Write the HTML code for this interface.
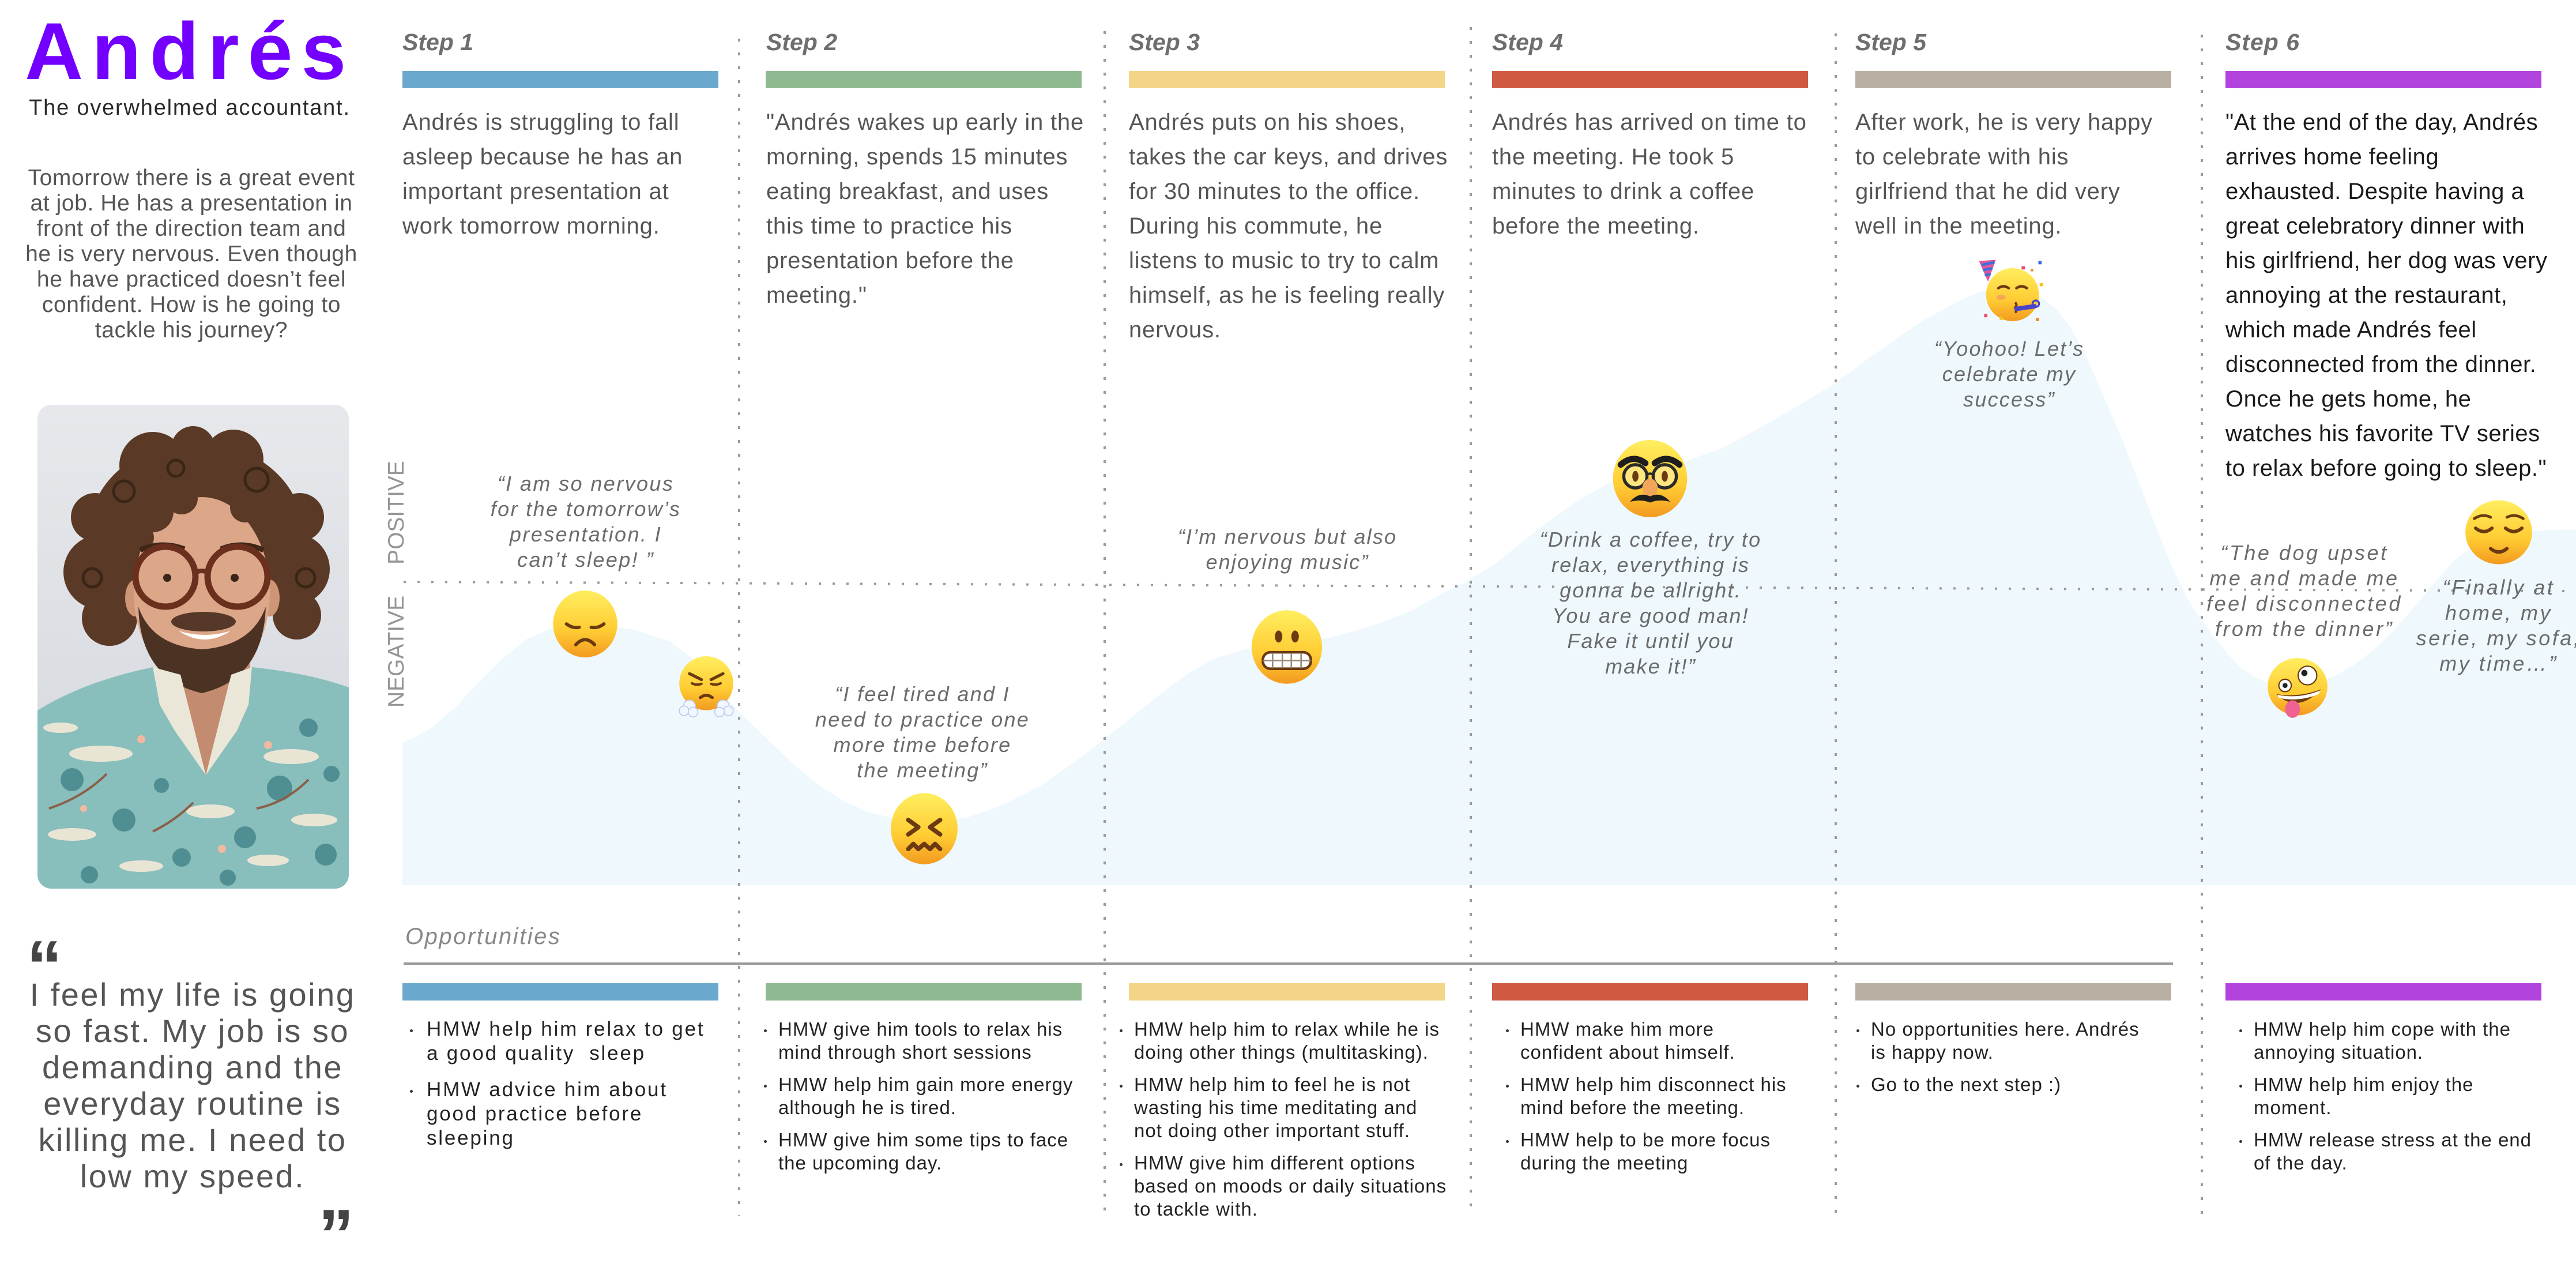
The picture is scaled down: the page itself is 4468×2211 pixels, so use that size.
<!DOCTYPE html>
<html>
<head>
<meta charset="utf-8">
<style>
html,body{margin:0;padding:0;background:#fff;}
body{width:4468px;height:2160px;overflow:hidden;position:relative;font-family:"Liberation Sans",Arial,sans-serif;}
.a{position:absolute;white-space:pre;}
.lbl{top:48px;font-size:41px;line-height:50px;font-weight:bold;font-style:italic;color:#6e6e6e;}
.st{top:182px;font-size:40px;line-height:60px;color:#555;letter-spacing:0.8px;}
.q{font-style:italic;font-size:36px;line-height:44px;color:#6b6b6b;letter-spacing:2.2px;text-align:center;width:600px;}
.bl{top:1765px;font-size:33px;line-height:40px;color:#222;letter-spacing:1px;}
.bl p{margin:0 0 16px 0;position:relative;}
.bl p::before{content:"";position:absolute;left:-25px;top:20px;width:5px;height:5px;border-radius:50%;background:#333;}
.bl1{top:1764px;font-size:35px;line-height:42px;letter-spacing:2.8px;}
.bl1 p{margin:0 0 21px 0;}
.bl1 p::before{left:-29px;top:21px;}
</style>
</head>
<body>

<svg width="4468" height="2160" style="position:absolute;left:0;top:0" xmlns="http://www.w3.org/2000/svg">
<defs>
<linearGradient id="fg" x1="0" y1="0" x2="0" y2="1">
<stop offset="0" stop-color="#FFEE60"/><stop offset="0.6" stop-color="#FFCC33"/><stop offset="1" stop-color="#F39A20"/>
</linearGradient>
</defs>

<path fill="#EEF8FD" d="M698,1535 L698,1288 L720,1278 L746,1264 L790,1226 L829,1184 L870,1143 L912,1109 L950,1092 L990,1085 L1040,1084 L1100,1092 L1161,1112 L1200,1140 L1240,1190 L1280,1232 L1335,1286 L1380,1328 L1421,1362 L1465,1390 L1506,1408 L1550,1419 L1600,1423 L1640,1422 L1677,1418 L1740,1396 L1806,1362 L1860,1324 L1917,1281 L1970,1238 L2019,1199 L2060,1168 L2105,1143 L2150,1128 L2190,1120 L2250,1113 L2301,1107 L2350,1094 L2404,1077 L2450,1058 L2489,1036 L2540,1010 L2590,980 L2630,948 L2674,913 L2740,866 L2799,833 L2860,812 L2923,800 L2985,778 L3047,745 L3120,703 L3184,664 L3240,622 L3296,583 L3340,553 L3379,532 L3410,516 L3437,506 L3465,500 L3490,499 L3515,503 L3540,515 L3565,535 L3587,561 L3615,610 L3645,679 L3680,760 L3711,840 L3740,915 L3769,987 L3796,1041 L3820,1078 L3842,1107 L3865,1135 L3887,1158 L3910,1174 L3933,1184 L3955,1189 L3979,1190 L4010,1186 L4048,1173 L4080,1155 L4116,1128 L4150,1095 L4185,1056 L4220,1013 L4254,974 L4290,948 L4322,934 L4355,925 L4391,921 L4430,919 L4468,918 L4468,1535 Z"/>

<rect x="698" y="123" width="548" height="30" fill="#6BA8CE"/>
<rect x="1328" y="123" width="548" height="30" fill="#8FBA91"/>
<rect x="1958" y="123" width="548" height="30" fill="#F4D489"/>
<rect x="2588" y="123" width="548" height="30" fill="#CF5A44"/>
<rect x="3218" y="123" width="548" height="30" fill="#B8B0A3"/>
<rect x="3860" y="123" width="548" height="30" fill="#B343DD"/>
<rect x="698" y="1705" width="548" height="30" fill="#6BA8CE"/>
<rect x="1328" y="1705" width="548" height="30" fill="#8FBA91"/>
<rect x="1958" y="1705" width="548" height="30" fill="#F4D489"/>
<rect x="2588" y="1705" width="548" height="30" fill="#CF5A44"/>
<rect x="3218" y="1705" width="548" height="30" fill="#B8B0A3"/>
<rect x="3860" y="1705" width="548" height="30" fill="#B343DD"/>
<rect x="700" y="1669" width="3069" height="4" fill="#999"/>

<g stroke="#9b9b9b" stroke-width="4" stroke-dasharray="5 19" fill="none">
<line x1="1282" y1="67" x2="1282" y2="2108"/>
<line x1="1916" y1="54" x2="1916" y2="2100"/>
<line x1="2551" y1="47" x2="2551" y2="2105"/>
<line x1="3184" y1="58" x2="3184" y2="2105"/>
<line x1="3819" y1="60" x2="3819" y2="2105"/>
</g>
<line x1="700" y1="1009" x2="4468" y2="1025" stroke="#9b9b9b" stroke-width="4" stroke-dasharray="4 20"/>

<text transform="translate(700,889) rotate(-90)" text-anchor="middle" font-family="Liberation Sans" font-size="39" fill="#959595">POSITIVE</text>
<text transform="translate(700,1130) rotate(-90)" text-anchor="middle" font-family="Liberation Sans" font-size="39" fill="#959595">NEGATIVE</text>

<g transform="translate(957,1024) scale(1.16)">
<ellipse cx="50" cy="50" rx="48" ry="50" fill="url(#fg)"/>
<path d="M22 50 Q31 57 41 55 M78 50 Q69 57 59 55" stroke="#6b3a10" stroke-width="5" fill="none" stroke-linecap="round"/>
<path d="M36 81 Q50 66 64 81" stroke="#6b3a10" stroke-width="5" fill="none" stroke-linecap="round"/>
</g>
<g transform="translate(1173,1137) scale(1.04)">
<circle cx="50" cy="46" r="45" fill="url(#fg)"/>
<path d="M22 30 L42 40 M78 30 L58 40" stroke="#6b3a10" stroke-width="5" stroke-linecap="round"/>
<path d="M26 46 Q34 50 42 47 M74 46 Q66 50 58 47" stroke="#6b3a10" stroke-width="4" fill="none" stroke-linecap="round"/>
<path d="M40 70 Q50 62 60 70" stroke="#6b3a10" stroke-width="5" fill="none" stroke-linecap="round"/>
<g fill="#f2f6ff" stroke="#b9c9ea" stroke-width="1.5">
<circle cx="22" cy="84" r="10"/><circle cx="13" cy="92" r="8"/><circle cx="28" cy="94" r="8"/>
<circle cx="78" cy="84" r="10"/><circle cx="87" cy="92" r="8"/><circle cx="72" cy="94" r="8"/>
</g>
</g>
<g transform="translate(1540,1374) scale(1.26)">
<ellipse cx="50" cy="50" rx="46" ry="49" fill="url(#fg)"/>
<path d="M28 38 L42 48 L28 58 M72 38 L58 48 L72 58" stroke="#6b3a10" stroke-width="6" fill="none" stroke-linecap="round" stroke-linejoin="round"/>
<path d="M28 78 L35 71 L42 78 L50 71 L58 78 L65 71 L72 78" stroke="#6b3a10" stroke-width="6" fill="none" stroke-linecap="round" stroke-linejoin="round"/>
</g>
<g transform="translate(2167,1057) scale(1.3)">
<ellipse cx="50" cy="50" rx="47" ry="49" fill="url(#fg)"/>
<ellipse cx="39" cy="36" rx="5" ry="8" fill="#6b3a10"/><ellipse cx="61" cy="36" rx="5" ry="8" fill="#6b3a10"/>
<rect x="18" y="57" width="64" height="22" rx="10" fill="#fff" stroke="#6b3a10" stroke-width="3.5"/>
<path d="M18 68 L82 68 M31 58 L31 78 M44 58 L44 78 M56 58 L56 78 M69 58 L69 78" stroke="#9a8a7a" stroke-width="2"/>
</g>
<g transform="translate(2795,763) scale(1.34)">
<ellipse cx="50" cy="50" rx="48" ry="50" fill="url(#fg)"/>
<path d="M12 32 Q28 18 44 30 M56 30 Q72 18 88 32" stroke="#1e1e1e" stroke-width="8" fill="none" stroke-linecap="round"/>
<circle cx="31" cy="47" r="15" fill="#ffe680" stroke="#2a2a2a" stroke-width="4"/>
<circle cx="69" cy="47" r="15" fill="#ffe680" stroke="#2a2a2a" stroke-width="4"/>
<path d="M46 45 Q50 42 54 45" stroke="#2a2a2a" stroke-width="3" fill="none"/>
<ellipse cx="31" cy="47" rx="4" ry="7" fill="#6b3a10"/><ellipse cx="69" cy="47" rx="4" ry="7" fill="#6b3a10"/>
<ellipse cx="50" cy="62" rx="10" ry="12" fill="#f1a65a"/>
<path d="M24 80 Q36 66 50 73 Q64 66 76 80 Q62 76 50 81 Q38 76 24 80Z" fill="#1e1e1e"/>
</g>
<g transform="translate(3428,446) scale(1.12)">
<circle cx="56" cy="58" r="41" fill="url(#fg)"/>
<polygon points="4,6 30,4 18,38" fill="#e3559a"/>
<path d="M8 12 L28 8 M10 20 L25 17 M13 28 L22 26" stroke="#3b6fe0" stroke-width="4"/>
<path d="M34 48 Q42 42 50 48 M62 48 Q70 42 78 48" stroke="#6b3a10" stroke-width="4" fill="none" stroke-linecap="round"/>
<ellipse cx="38" cy="62" rx="7" ry="4" fill="#f28a6a" opacity="0.6"/>
<path d="M60 70 Q64 74 60 78 Q64 82 60 86" stroke="#6b3a10" stroke-width="3.5" fill="none"/>
<path d="M62 80 L90 76" stroke="#4a44c8" stroke-width="7" stroke-linecap="round"/>
<circle cx="92" cy="72" r="5" fill="none" stroke="#4a44c8" stroke-width="3"/>
<rect x="70" y="14" width="5" height="5" fill="#e84a6a"/><rect x="96" y="6" width="5" height="5" fill="#2e6be0"/>
<rect x="98" y="40" width="5" height="5" fill="#f5c21b"/><rect x="12" y="88" width="5" height="5" fill="#e84a6a"/>
<rect x="36" y="92" width="5" height="5" fill="#f5c21b"/><rect x="92" y="94" width="5" height="5" fill="#f08a2a"/>
<rect x="84" y="18" width="4" height="4" fill="#f08a2a"/>
</g>
<g transform="translate(3931,1139) scale(1.08)">
<ellipse cx="50" cy="48" rx="48" ry="46" fill="url(#fg)"/>
<circle cx="30" cy="46" r="10" fill="#fff" stroke="#6b3a10" stroke-width="2"/><circle cx="30" cy="46" r="4" fill="#222"/>
<circle cx="66" cy="30" r="15" fill="#fff" stroke="#6b3a10" stroke-width="2"/><circle cx="61" cy="26" r="5" fill="#222"/>
<path d="M16 60 Q50 92 88 52 Q52 66 16 60Z" fill="#6b3a10"/>
<path d="M18 61 Q52 68 86 54 L84 60 Q52 73 20 66Z" fill="#fff"/>
<ellipse cx="42" cy="84" rx="12" ry="14" fill="#f06292"/>
</g>
<g transform="translate(4275,864) scale(1.18)">
<ellipse cx="50" cy="50" rx="49" ry="47" fill="url(#fg)"/>
<path d="M14 30 Q26 22 38 28 M62 28 Q74 22 86 30" stroke="#6b3a10" stroke-width="4" fill="none" stroke-linecap="round"/>
<path d="M16 44 Q28 54 40 44 M60 44 Q72 54 84 44" stroke="#6b3a10" stroke-width="5" fill="none" stroke-linecap="round"/>
<path d="M38 74 Q50 84 62 74" stroke="#6b3a10" stroke-width="5" fill="none" stroke-linecap="round"/>
</g>
</svg>

<div style="position:absolute;left:65px;top:702px;width:540px;height:839px;border-radius:24px;overflow:hidden;">
<svg width="540" height="839" xmlns="http://www.w3.org/2000/svg">
<defs><linearGradient id="pbg" x1="0" y1="0" x2="0" y2="1"><stop offset="0" stop-color="#e6e8ec"/><stop offset="1" stop-color="#d3d6db"/></linearGradient></defs>
<rect width="540" height="839" fill="url(#pbg)"/>
<g fill="#5a3a26">
<ellipse cx="275" cy="220" rx="185" ry="155"/>
<circle cx="110" cy="290" r="65"/><circle cx="445" cy="285" r="62"/>
<circle cx="125" cy="370" r="48"/><circle cx="450" cy="365" r="42"/>
<circle cx="200" cy="105" r="58"/><circle cx="340" cy="95" r="52"/>
<circle cx="100" cy="195" r="42"/><circle cx="455" cy="195" r="42"/>
<circle cx="270" cy="75" r="38"/>
</g>
<g fill="none" stroke="#3a2516" stroke-width="5">
<circle cx="150" cy="150" r="18"/><circle cx="380" cy="130" r="20"/><circle cx="95" cy="300" r="16"/><circle cx="465" cy="300" r="16"/><circle cx="240" cy="110" r="14"/>
</g>
<ellipse cx="170" cy="335" rx="18" ry="32" fill="#cf9577"/>
<ellipse cx="402" cy="335" rx="18" ry="32" fill="#cf9577"/>
<path d="M212,440 L368,440 L372,600 L292,642 L208,600Z" fill="#c38b70"/>
<ellipse cx="285" cy="325" rx="118" ry="165" fill="#dca689"/>
<g fill="#5a3a26"><circle cx="200" cy="185" r="36"/><circle cx="250" cy="162" r="28"/><circle cx="178" cy="230" r="24"/><circle cx="360" cy="178" r="26"/></g>
<path d="M175,350 Q178,475 285,500 Q392,475 396,350 Q372,418 285,424 Q198,418 175,350Z" fill="#4b3223"/>
<ellipse cx="288" cy="376" rx="56" ry="17" fill="#553827"/>
<path d="M245,392 Q290,422 335,392 Q290,406 245,392Z" fill="#fff"/>
<path d="M178,252 Q215,235 255,250 M318,250 Q355,235 392,252" stroke="#3e2718" stroke-width="9" fill="none"/>
<circle cx="222" cy="298" r="52" fill="none" stroke="#6b2f1d" stroke-width="11"/>
<circle cx="347" cy="298" r="52" fill="none" stroke="#6b2f1d" stroke-width="11"/>
<path d="M272,292 Q285,284 297,292" stroke="#6b2f1d" stroke-width="8" fill="none"/>
<circle cx="225" cy="300" r="7" fill="#3a2516"/><circle cx="342" cy="300" r="7" fill="#3a2516"/>
<path d="M0,530 Q80,480 200,455 L292,642 L372,455 Q470,465 540,490 L540,839 L0,839Z" fill="#88bebb"/>
<polygon points="200,455 248,468 292,642 238,565 212,520" fill="#ebe7d8"/>
<polygon points="372,455 336,468 292,642 346,565 366,520" fill="#ebe7d8"/>
<g fill="#e9e5d5">
<ellipse cx="110" cy="605" rx="55" ry="14"/><ellipse cx="440" cy="610" rx="48" ry="13"/><ellipse cx="300" cy="705" rx="42" ry="12"/>
<ellipse cx="60" cy="745" rx="42" ry="11"/><ellipse cx="480" cy="720" rx="40" ry="11"/><ellipse cx="180" cy="800" rx="38" ry="10"/>
<ellipse cx="400" cy="790" rx="36" ry="10"/><ellipse cx="40" cy="560" rx="30" ry="9"/>
</g>
<g fill="#4f8f93">
<circle cx="60" cy="650" r="20"/><circle cx="150" cy="720" r="20"/><circle cx="420" cy="665" r="22"/><circle cx="500" cy="780" r="19"/>
<circle cx="250" cy="785" r="16"/><circle cx="360" cy="750" r="19"/><circle cx="90" cy="815" r="15"/><circle cx="470" cy="560" r="16"/>
<circle cx="215" cy="660" r="13"/><circle cx="330" cy="820" r="14"/><circle cx="510" cy="640" r="14"/>
</g>
<g stroke="#8b5e48" stroke-width="4" fill="none">
<path d="M20,700 Q80,680 120,640"/><path d="M380,700 Q430,690 470,650"/><path d="M200,740 Q240,720 270,690"/>
</g>
<g fill="#f0b9a0"><circle cx="180" cy="580" r="7"/><circle cx="400" cy="590" r="7"/><circle cx="320" cy="770" r="7"/><circle cx="80" cy="700" r="6"/></g>
</svg>
</div>

<div class="a" style="left:43px;top:19px;font-size:140px;line-height:140px;font-weight:bold;letter-spacing:15px;color:#7300ff;">Andrés</div>
<div class="a" style="left:29px;top:165px;width:600px;text-align:center;font-size:38px;line-height:44px;letter-spacing:1.8px;color:#2a2a2a;">The overwhelmed accountant.</div>
<div class="a" style="left:32px;top:287px;width:600px;text-align:center;font-size:39px;line-height:44px;letter-spacing:0.6px;color:#555;">Tomorrow there is a great event
at job. He has a presentation in
front of the direction team and
he is very nervous. Even though
he have practiced doesn’t feel
confident. How is he going to
tackle his journey?</div>

<div class="a" style="left:46px;top:1614px;font-size:124px;line-height:124px;font-weight:bold;color:#444;">“</div>
<div class="a" style="left:34px;top:1693px;width:600px;text-align:center;font-size:56px;line-height:63px;letter-spacing:2.5px;color:#555;">I feel my life is going
so fast. My job is so
demanding and the
everyday routine is
killing me. I need to
low my speed.</div>
<div class="a" style="left:552px;top:2080px;font-size:124px;line-height:124px;font-weight:bold;color:#444;">”</div>

<div class="a lbl" style="left:698px;">Step 1</div>
<div class="a lbl" style="left:1329px;">Step 2</div>
<div class="a lbl" style="left:1958px;">Step 3</div>
<div class="a lbl" style="left:2588px;">Step 4</div>
<div class="a lbl" style="left:3218px;">Step 5</div>
<div class="a lbl" style="left:3860px;letter-spacing:1px;">Step 6</div>

<div class="a st" style="left:698px;">Andrés is struggling to fall
asleep because he has an
important presentation at
work tomorrow morning.</div>
<div class="a st" style="left:1329px;">"Andrés wakes up early in the
morning, spends 15 minutes
eating breakfast, and uses
this time to practice his
presentation before the
meeting."</div>
<div class="a st" style="left:1958px;">Andrés puts on his shoes,
takes the car keys, and drives
for 30 minutes to the office.
During his commute, he
listens to music to try to calm
himself, as he is feeling really
nervous.</div>
<div class="a st" style="left:2588px;">Andrés has arrived on time to
the meeting. He took 5
minutes to drink a coffee
before the meeting.</div>
<div class="a st" style="left:3218px;">After work, he is very happy
to celebrate with his
girlfriend that he did very
well in the meeting.</div>
<div class="a st" style="left:3860px;color:#1a1a1a;letter-spacing:0.5px;">"At the end of the day, Andrés
arrives home feeling
exhausted. Despite having a
great celebratory dinner with
his girlfriend, her dog was very
annoying at the restaurant,
which made Andrés feel
disconnected from the dinner.
Once he gets home, he
watches his favorite TV series
to relax before going to sleep."</div>

<div class="a q" style="left:716px;top:817px;letter-spacing:2.4px;">“I am so nervous
for the tomorrow’s
presentation. I
can’t sleep! ”</div>
<div class="a q" style="left:1300px;top:1182px;letter-spacing:2.3px;">“I feel tired and I
need to practice one
more time before
the meeting”</div>
<div class="a q" style="left:1933px;top:909px;">“I’m nervous but also
enjoying music”</div>
<div class="a q" style="left:2563px;top:914px;">“Drink a coffee, try to
relax, everything is
gonna be allright.
You are good man!
Fake it until you
make it!”</div>
<div class="a q" style="left:3185px;top:583px;">“Yoohoo! Let’s
celebrate my
success”</div>
<div class="a q" style="left:3697px;top:937px;letter-spacing:3.5px;">“The dog upset
me and made me
feel disconnected
from the dinner”</div>
<div class="a q" style="left:4034px;top:997px;letter-spacing:3.5px;">“Finally at
home, my
serie, my sofa,
my time…”</div>

<div class="a" style="left:703px;top:1604px;font-size:40px;line-height:40px;font-style:italic;letter-spacing:2.5px;color:#888;">Opportunities</div>

<div class="a bl bl1" style="left:740px;"><p>HMW help him relax to get
a good quality  sleep</p><p>HMW advice him about
good practice before
sleeping</p></div>
<div class="a bl" style="left:1350px;"><p>HMW give him tools to relax his
mind through short sessions</p><p>HMW help him gain more energy
although he is tired.</p><p>HMW give him some tips to face
the upcoming day.</p></div>
<div class="a bl" style="left:1967px;"><p>HMW help him to relax while he is
doing other things (multitasking).</p><p>HMW help him to feel he is not
wasting his time meditating and
not doing other important stuff.</p><p>HMW give him different options
based on moods or daily situations
to tackle with.</p></div>
<div class="a bl" style="left:2637px;"><p>HMW make him more
confident about himself.</p><p>HMW help him disconnect his
mind before the meeting.</p><p>HMW help to be more focus
during the meeting</p></div>
<div class="a bl" style="left:3245px;"><p>No opportunities here. Andrés
is happy now.</p><p>Go to the next step :)</p></div>
<div class="a bl" style="left:3909px;"><p>HMW help him cope with the
annoying situation.</p><p>HMW help him enjoy the
moment.</p><p>HMW release stress at the end
of the day.</p></div>

</body>
</html>
